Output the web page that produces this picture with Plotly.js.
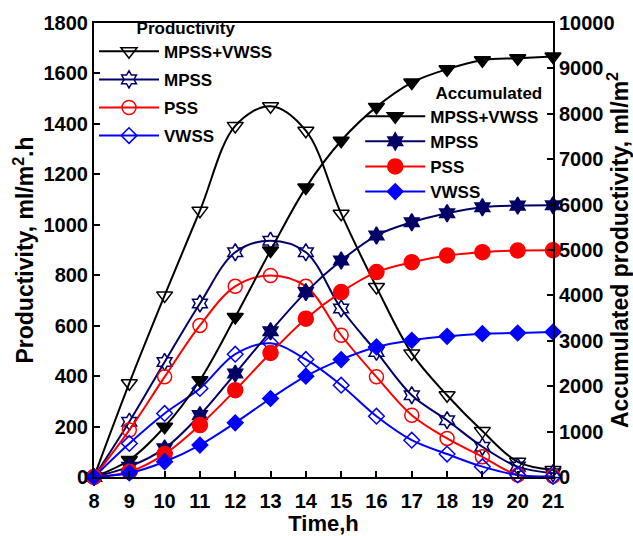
<!DOCTYPE html>
<html><head><meta charset="utf-8">
<script src="https://cdn.plot.ly/plotly-3.0.1.min.js"></script>
<style>body{margin:0;background:#fff}#c{width:633px;height:536px}</style>
</head><body><div id="c"></div>
<script>
const hours = [8,9,10,11,12,13,14,15,16,17,18,19,20,21];
// Productivity, ml/m2.h
const prodMV = [0,372,720,1056,1392,1470,1373,1044,753,490,324,182,60,28];
const prodMPSS = [0,219,456,688,891,937,891,668,496,324,225,120,41,15];
const prodPSS = [0,186,397,601,756,799,756,562,397,245,153,80,8,3];
const prodVWSS = [0,133,252,351,487,530,466,364,241,146,91,41,8,2];
// Accumulated productivity, ml/m2
const accMV = [0,374,1106,2132,3523,4989,6374,7407,8152,8688,8982,9180,9224,9260];
const accMPSS = [0,227,630,1363,2278,3209,4073,4769,5319,5612,5810,5941,5978,5985];
const accPSS = [0,117,505,1143,1912,2732,3487,4073,4513,4732,4879,4952,4989,4995];
const accVWSS = [0,88,337,703,1194,1729,2220,2587,2864,3011,3099,3158,3172,3194];
const names = ['MPSS+VWSS','MPSS','PSS','VWSS'];
const colors = ['#000000','#000066','#ff0000','#0000ff'];

function tr(y, i, sym, size, axis, legend){
  return {x: hours, y: y, name: names[i], type:'scatter', mode:'lines+markers',
    yaxis: axis, legend: legend, legendgroup: legend + i, cliponaxis:false,
    line:{color:colors[i], width:2, shape:'spline'},
    marker:{symbol:sym, size:size, color:colors[i], line:{color:colors[i], width:1.5}}};
}
const data = [
  tr(prodMV,0,'triangle-down-open',14,'y','legend'),
  tr(prodMPSS,1,'hexagram-open',13,'y','legend'),
  tr(prodPSS,2,'circle-open',14,'y','legend'),
  tr(prodVWSS,3,'diamond-open',12,'y','legend'),
  tr(accMV,0,'triangle-down',14,'y2','legend2'),
  tr(accMPSS,1,'hexagram',13,'y2','legend2'),
  tr(accPSS,2,'circle',15,'y2','legend2'),
  tr(accVWSS,3,'diamond',12,'y2','legend2')
];
const F = 'Liberation Sans, Arial, sans-serif';
const tickF = {family:F, size:20, color:'#000', weight:'bold'};
const titleF = {family:F, size:23, color:'#000', weight:'bold'};
const legF = {family:F, size:17, color:'#000', weight:'bold'};
const layout = {
  width:633, height:536,
  margin:{l:94, r:80, t:21, b:59},
  paper_bgcolor:'#fff', plot_bgcolor:'#fff',
  font:{family:F, color:'#000', weight:'bold'},
  xaxis:{range:[8,21], dtick:1, tick0:8, showgrid:false, zeroline:false,
    showline:true, linecolor:'#000', linewidth:2, mirror:true,
    ticks:'inside', ticklen:6, tickwidth:2, tickcolor:'#000', tickfont:tickF,
    ticklabelstandoff:5,
    title:{text:'Time,h', font:{family:F, size:22, color:'#000', weight:'bold'}, standoff:1}},
  yaxis:{range:[0,1800], dtick:200, showgrid:false, zeroline:false,
    showline:true, linecolor:'#000', linewidth:2,
    ticks:'inside', ticklen:6, tickwidth:2, tickcolor:'#000', tickfont:tickF,
    title:{text:'Productivity, ml/m<sup>2</sup>.h', font:titleF, standoff:3}},
  yaxis2:{range:[0,10000], dtick:1000, overlaying:'y', side:'right', showgrid:false, zeroline:false,
    showline:true, linecolor:'#000', linewidth:2, tickformat:'d', exponentformat:'none',
    ticks:'inside', ticklen:6, tickwidth:2, tickcolor:'#000', tickfont:tickF,
    title:{text:'Accumulated productivity, ml/m<sup>2</sup>', font:titleF, standoff:1}},
  showlegend:true,
  legend:{x:0, xanchor:'left', y:1.025, yanchor:'top', bgcolor:'rgba(0,0,0,0)',
    font:legF, itemwidth:60, tracegroupgap:3,
    title:{text:'Productivity', side:'top center', font:legF}},
  legend2:{x:0.58, xanchor:'left', y:0.882, yanchor:'top', bgcolor:'rgba(0,0,0,0)',
    font:legF, itemwidth:60, tracegroupgap:0,
    title:{text:'Accumulated', side:'top right', font:legF}}
};
Plotly.newPlot('c', data, layout, {displayModeBar:false});
</script></body></html>
